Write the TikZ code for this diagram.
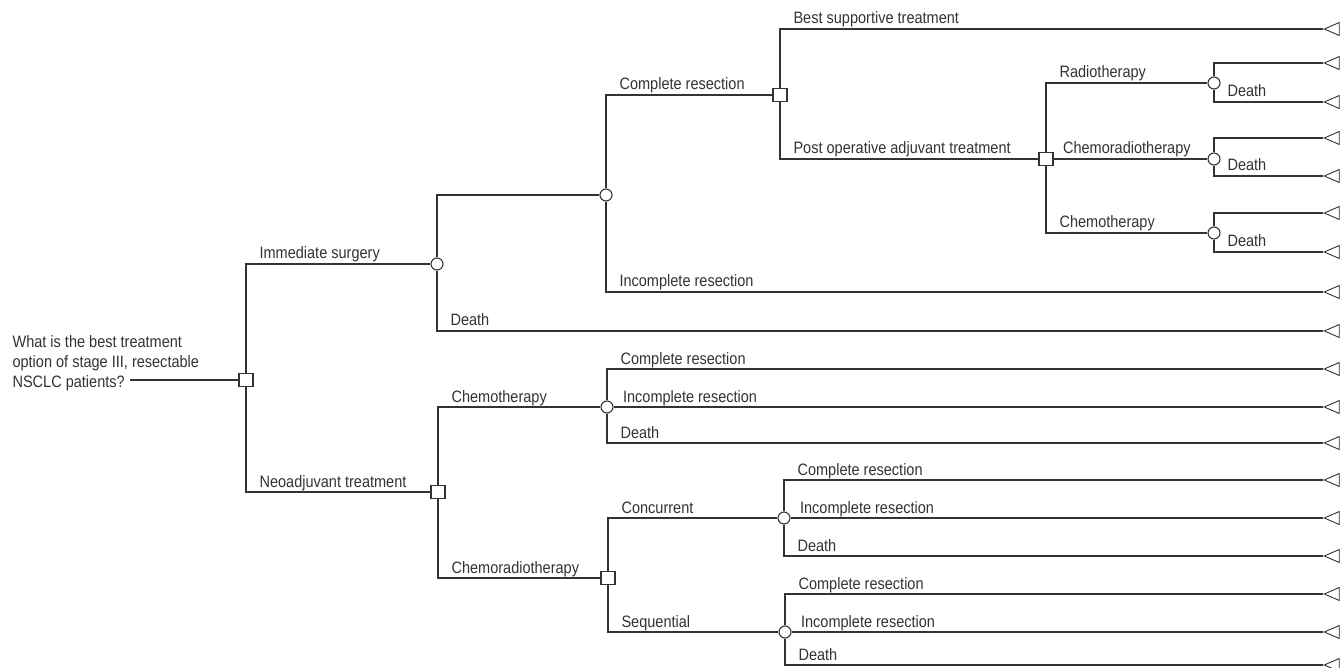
\documentclass[tikz,border=0pt]{standalone}
\usepackage{fontspec}
\setmainfont{Liberation Sans}[FakeStretch=0.88]
\usetikzlibrary{shapes.geometric}
\definecolor{tree_gray}{HTML}{333333}

\tikzset{
  dec/.style={draw, rectangle, fill=white, minimum width=14pt, minimum height=13pt, inner sep=0pt},
  chance/.style={draw, circle, fill=white, minimum size=12pt, inner sep=0pt},
  term/.style={draw, isosceles triangle, shape border rotate=180, isosceles triangle stretches,
    minimum width=13pt, minimum height=15pt, inner sep=0pt, line width=0.9pt},
  lbl/.style={pos=0.5, anchor=base west, xshift=13pt, yshift=5pt, inner sep=0pt},
  midlbl/.style={at start, anchor=base west, xshift=9pt, yshift=5pt, inner sep=0pt}
}

\begin{document}
\begin{tikzpicture}[x=1pt, y=-1pt, line width=1.1pt, color=tree_gray, font=\fontsize{16.5}{20}\selectfont]
  \useasboundingbox (0,0) rectangle (1344,668);
  % Question and root decision
  \node[align=left, anchor=north west, inner sep=0pt] (question) at (12,335)
    {What is the best treatment\\option of stage III, resectable\\NSCLC patients?};
  \coordinate (qend) at (130,380);
  \node[dec] (root) at (246,380) {};
  % Decision and chance nodes
  \node[chance] (surg) at (437,264) {};
  \node[dec] (neo) at (438,492) {};
  \node[chance] (resect) at (606,195) {};
  \node[dec] (compl) at (780,95) {};
  \node[dec] (postop) at (1046,159) {};
  \node[chance] (radio) at (1214,83) {};
  \node[chance] (chemrad) at (1214,159) {};
  \node[chance] (chemo) at (1214,233) {};
  \node[chance] (neochemo) at (607,407) {};
  \node[dec] (neocrt) at (608,578) {};
  \node[chance] (conc) at (784,518) {};
  \node[chance] (seq) at (785,632) {};
  % Terminal nodes
  \foreach \y [count=\i] in {29,63,102,138,176,213,252,292,331,369,407,443,480,518,556,594,632,665}
    \node[term] (t\i) at (1335,\y) {};
  % Immediate surgery
  \draw (qend) -- (root);
  \draw (root) |- node[lbl] {Immediate surgery} (surg);
  \draw (surg) |- (resect);
  \draw (surg) |- node[lbl] {Death} (t9);
  \draw (resect) |- node[lbl] {Complete resection} (compl);
  \draw (resect) |- node[lbl] {Incomplete resection} (t8);
  \draw (compl) |- node[lbl] {Best supportive treatment} (t1);
  \draw (compl) |- node[lbl] {Post operative adjuvant treatment} (postop);
  \draw (postop) |- node[lbl] {Radiotherapy} (radio);
  \draw (postop) -- node[midlbl] {Chemoradiotherapy} (chemrad);
  \draw (postop) |- node[lbl] {Chemotherapy} (chemo);
  \draw (radio) |- (t2);
  \draw (radio) |- node[lbl] {Death} (t3);
  \draw (chemrad) |- (t4);
  \draw (chemrad) |- node[lbl] {Death} (t5);
  \draw (chemo) |- (t6);
  \draw (chemo) |- node[lbl] {Death} (t7);
  % Neoadjuvant treatment
  \draw (root) |- node[lbl] {Neoadjuvant treatment} (neo);
  \draw (neo) |- node[lbl] {Chemotherapy} (neochemo);
  \draw (neo) |- node[lbl] {Chemoradiotherapy} (neocrt);
  \draw (neochemo) |- node[lbl] {Complete resection} (t10);
  \draw (neochemo) -- node[midlbl] {Incomplete resection} (t11);
  \draw (neochemo) |- node[lbl] {Death} (t12);
  \draw (neocrt) |- node[lbl] {Concurrent} (conc);
  \draw (neocrt) |- node[lbl] {Sequential} (seq);
  \draw (conc) |- node[lbl] {Complete resection} (t13);
  \draw (conc) -- node[midlbl] {Incomplete resection} (t14);
  \draw (conc) |- node[lbl] {Death} (t15);
  \draw (seq) |- node[lbl] {Complete resection} (t16);
  \draw (seq) -- node[midlbl] {Incomplete resection} (t17);
  \draw (seq) |- node[lbl] {Death} (t18);
\end{tikzpicture}
\end{document}
